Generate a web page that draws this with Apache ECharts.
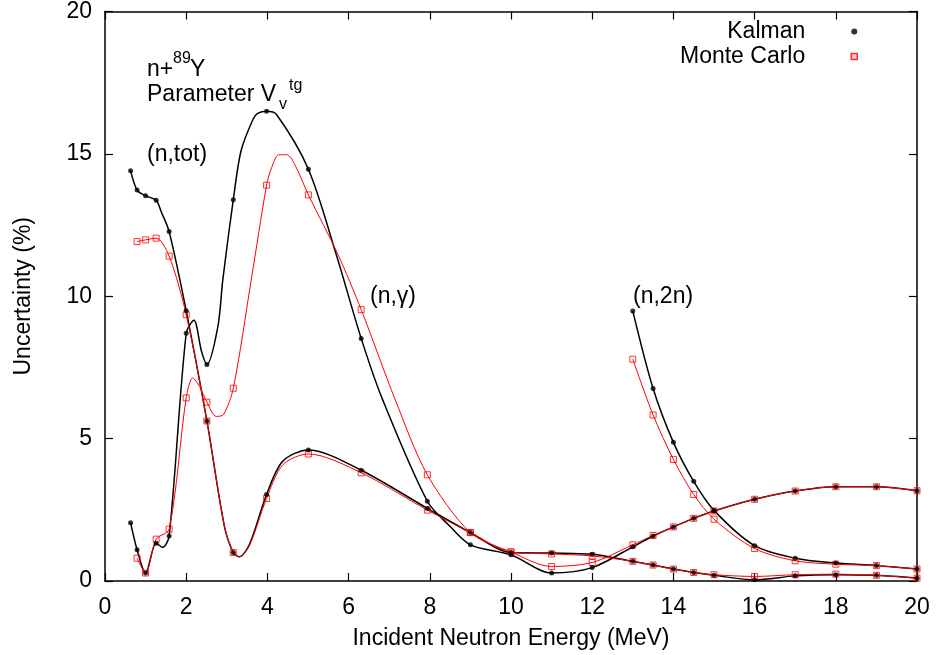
<!DOCTYPE html>
<html>
<head>
<meta charset="utf-8">
<script src="https://cdn.jsdelivr.net/npm/echarts@6/dist/echarts.min.js"></script>
<style>html,body{margin:0;padding:0;background:#fff;}#c{width:937px;height:655px;}</style>
</head>
<body>
<div id="c"></div>
<script>
// ---- data: [energy (MeV), uncertainty (%)] ----
// Kalman (black) -- points with markers
const kalTotMarks = [[0.63,14.41],[0.79,13.73],[1.0,13.53],[1.26,13.37],[1.58,12.27],[2.0,9.49],[2.51,5.62],[3.16,1.0],[3.98,3.04],[5.01,4.6],[6.31,3.89],[7.94,2.55],[9,1.7],[10,1.0],[11,0.98],[12,0.94],[13,0.69],[13.5,0.56],[14,0.42],[14.5,0.3],[15,0.2],[16,0.04],[17,0.18],[18,0.22],[19,0.2],[20,0.1]];
const kalTotCurve = [[1.39,12.95],[2.94,1.93],[3.31,0.85],[3.56,1.29],[4.38,4.21]];
const kalGamMarks = [[0.63,2.05],[0.79,1.1],[1.0,0.28],[1.26,1.33],[1.58,1.58],[2.0,8.7],[2.51,7.6],[3.16,13.39],[3.98,16.5],[5.01,14.46],[6.31,8.52],[7.94,2.8],[9,1.27],[10,0.92],[11,0.28],[12,0.47],[13,1.2],[13.5,1.58],[14,1.9],[14.5,2.2],[15,2.46],[16,2.87],[17,3.16],[18,3.31],[19,3.31],[20,3.17]];
const kalGamCurve = [[1.42,1.18],[2.19,9.16],[2.38,8.05],[2.78,8.93],[2.9,10.56],[3.35,15.1],[3.64,16.2],[3.76,16.42],[4.22,16.39],[5.69,11.49],[6.84,6.36],[8.49,1.93]];
const kal2nMarks = [[13,9.48],[13.5,6.76],[14,4.87],[14.5,3.5],[15,2.48],[16,1.24],[17,0.8],[18,0.63],[19,0.54],[20,0.42]];
// Monte Carlo (red)
const mcTotMarks = [[0.79,11.92],[1.0,11.98],[1.26,12.04],[1.58,11.41],[2.0,9.35],[2.51,5.62],[3.16,1.0],[3.98,2.9],[5.01,4.46],[6.31,3.8],[7.94,2.49],[9,1.7],[10,1.02],[11,0.95],[12,0.88],[13,0.69],[13.5,0.56],[14,0.42],[14.5,0.3],[15,0.22],[16,0.16],[17,0.22],[18,0.24],[19,0.2],[20,0.1]];
const mcTotCurve = [[2.94,1.93],[3.31,0.85],[3.56,1.25],[4.38,4.08]];
const mcGamMarks = [[0.79,0.8],[1.0,0.28],[1.26,1.47],[1.58,1.82],[2.0,6.43],[2.51,6.28],[3.16,6.77],[3.98,13.9],[5.01,13.56],[6.31,9.53],[7.94,3.73],[9,1.7],[10,1.02],[11,0.51],[12,0.65],[13,1.27],[13.5,1.6],[14,1.9],[14.5,2.2],[15,2.46],[16,2.87],[17,3.16],[18,3.31],[19,3.31],[20,3.17]];
const mcGamCurve = [[2.16,7.13],[2.33,6.83],[2.74,5.78],[2.92,5.85],[3.6,10.56],[4.09,14.46],[4.28,14.97],[4.48,14.97],[4.69,14.58],[5.73,11.49],[7.15,6.36]];
const mc2nMarks = [[13,7.79],[13.5,5.83],[14,4.27],[14.5,3.04],[15,2.17],[16,1.14],[17,0.71],[18,0.59],[19,0.54],[20,0.42]];

const seriesNames = ['Kalman', 'Monte Carlo'];
const xLabel = 'Incident Neutron Energy (MeV)';
const yLabel = 'Uncertainty (%)';

const FONT = 'Liberation Sans, Arial, Helvetica, sans-serif';
const FS = 23;

function merge(a, b) { return a.concat(b).sort((p, q) => p[0] - q[0]); }
function lineSeries(data, color, width) {
  return { type: 'line', data: data, xAxisIndex: 0, yAxisIndex: 0, showSymbol: false, symbol: 'none',
    smooth: 0.3, lineStyle: { color: color, width: width }, silent: true, animation: false, z: 2 };
}

const chart = echarts.init(document.getElementById('c'), null, { renderer: 'canvas' });
const axisCommon = {
  type: 'value', min: 0, max: 20,
  axisLine: { show: true, onZero: false, lineStyle: { color: '#000', width: 1.5 } },
  axisTick: { show: true, inside: true, length: 8, lineStyle: { color: '#000', width: 1.2 } },
  splitLine: { show: false }
};
chart.setOption({
  animation: false,
  backgroundColor: '#fff',
  grid: { left: 105, right: 20, top: 10, bottom: 73, containLabel: false },
  textStyle: { fontFamily: FONT },
  xAxis: [
    Object.assign({}, axisCommon, { position: 'bottom', interval: 2,
      axisLabel: { show: true, color: '#000', fontSize: FS, fontFamily: FONT, margin: 15 },
      name: xLabel, nameLocation: 'middle', nameGap: 46,
      nameTextStyle: { color: '#000', fontSize: FS, fontFamily: FONT } }),
    Object.assign({}, axisCommon, { position: 'top', interval: 2, axisLabel: { show: false } })
  ],
  yAxis: [
    Object.assign({}, axisCommon, { position: 'left', interval: 5,
      axisLabel: { show: true, color: '#000', fontSize: FS, fontFamily: FONT, margin: 13 },
      name: yLabel, nameLocation: 'middle', nameGap: 70, nameRotate: 90,
      nameTextStyle: { color: '#000', fontSize: FS, fontFamily: FONT } }),
    Object.assign({}, axisCommon, { position: 'right', interval: 5, axisLabel: { show: false } })
  ],
  legend: {
    orient: 'vertical', right: 79, top: 20, padding: 0, align: 'right', itemWidth: 6, itemHeight: 6, itemGap: 2,
    selectedMode: false,
    textStyle: { color: '#000', fontSize: FS, fontFamily: FONT, padding: [0, 41, 0, 0] },
    data: [
      { name: seriesNames[0], icon: 'circle', itemStyle: { color: '#000' } },
      { name: seriesNames[1], icon: 'rect', itemStyle: { color: 'rgba(255,120,120,0.5)', borderColor: '#ff0000', borderWidth: 1.5 } }
    ]
  },
  graphic: [
    { type: 'text', x: 147, y: 70, style: { text: 'n+', fontSize: FS, fontFamily: FONT, fill: '#000', verticalAlign: 'middle' } },
    { type: 'text', x: 173, y: 59, style: { text: '89', fontSize: 16, fontFamily: FONT, fill: '#000', verticalAlign: 'middle' } },
    { type: 'text', x: 190, y: 70, style: { text: 'Y', fontSize: FS, fontFamily: FONT, fill: '#000', verticalAlign: 'middle' } },
    { type: 'text', x: 147, y: 95, style: { text: 'Parameter V', fontSize: FS, fontFamily: FONT, fill: '#000', verticalAlign: 'middle' } },
    { type: 'text', x: 279, y: 105, style: { text: 'v', fontSize: 16, fontFamily: FONT, fill: '#000', verticalAlign: 'middle' } },
    { type: 'text', x: 289, y: 86, style: { text: 'tg', fontSize: 16, fontFamily: FONT, fill: '#000', verticalAlign: 'middle' } },
    { type: 'text', x: 147, y: 155, style: { text: '(n,tot)', fontSize: FS, fontFamily: FONT, fill: '#000', verticalAlign: 'middle' } },
    { type: 'text', x: 370, y: 297, style: { text: '(n,γ)', fontSize: FS, fontFamily: FONT, fill: '#000', verticalAlign: 'middle' } },
    { type: 'text', x: 633, y: 297, style: { text: '(n,2n)', fontSize: FS, fontFamily: FONT, fill: '#000', verticalAlign: 'middle' } }
  ],
  series: [
    lineSeries(merge(kalTotMarks, kalTotCurve), '#000', 1.5),
    lineSeries(merge(kalGamMarks, kalGamCurve), '#000', 1.5),
    lineSeries(kal2nMarks, '#000', 1.5),
    lineSeries(merge(mcTotMarks, mcTotCurve), '#ff0000', 1),
    lineSeries(merge(mcGamMarks, mcGamCurve), '#ff0000', 1),
    lineSeries(mc2nMarks, '#ff0000', 1),
    { name: seriesNames[1], type: 'scatter', data: mcTotMarks.concat(mcGamMarks, mc2nMarks),
      symbol: 'rect', symbolSize: 6, symbolKeepAspect: true,
      itemStyle: { color: 'rgba(255,255,255,0)', borderColor: '#ff0000', borderWidth: 1 }, z: 3, silent: true },
    { name: seriesNames[0], type: 'scatter', data: kalTotMarks.concat(kalGamMarks, kal2nMarks),
      symbol: 'circle', symbolSize: 5, symbolKeepAspect: true,
      itemStyle: { color: '#000' }, z: 4, silent: true }
  ]
});
</script>
</body>
</html>
